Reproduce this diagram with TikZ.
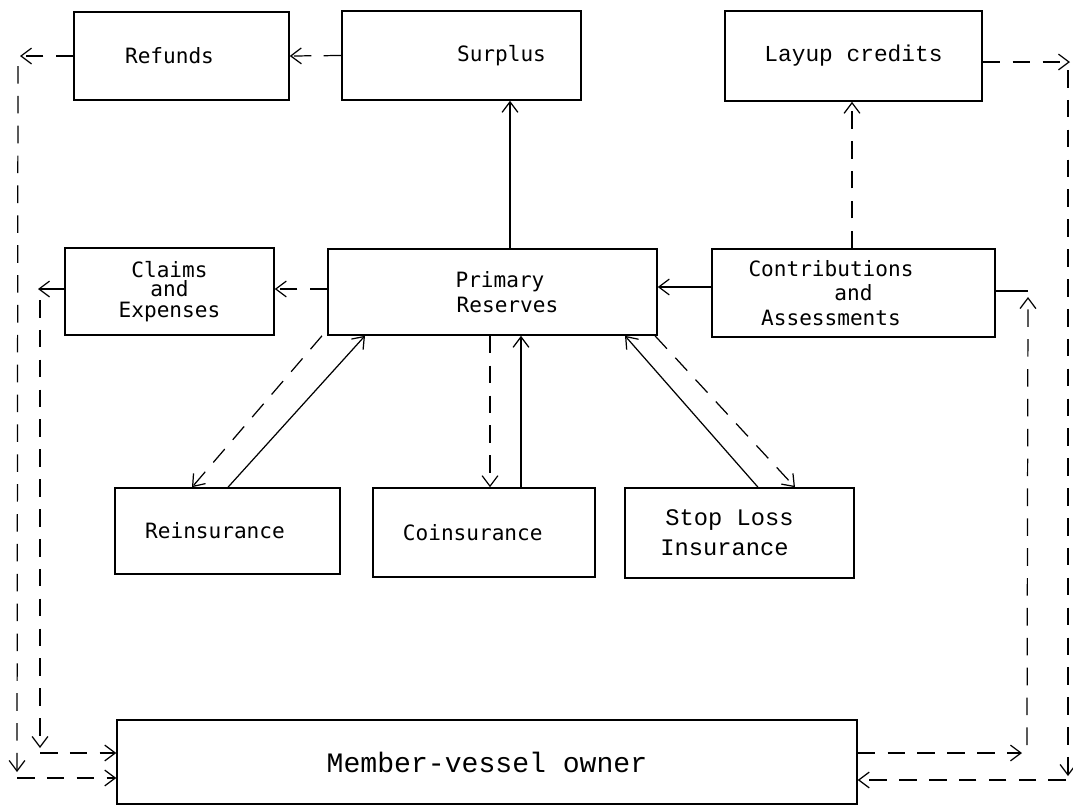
\documentclass[tikz,border=0pt]{standalone}
\usepackage{fontspec}
\newfontfamily\typesans{DejaVu Sans Mono}
\newfontfamily\typeserif{Liberation Mono}
\usetikzlibrary{arrows.meta}

\tikzset{
  blk/.style={draw, line width=0.9pt, inner sep=0pt, align=center,
    font=\typesans\fontsize{12}{14}\selectfont},
  blkserif/.style={blk, font=\typeserif\fontsize{13.5}{17}\selectfont},
  flow/.style={line width=0.7pt, -{Straight Barb[length=6pt,width=9pt]}},
  plain/.style={line width=0.7pt},
  dflow/.style={flow, dash pattern=on 10pt off 7pt},
}

\begin{document}
\begin{tikzpicture}[x=0.02cm, y=-0.02cm]
\useasboundingbox (0,0) rectangle (1073,806);

\node[blk, minimum width=4.30cm, minimum height=1.76cm] (refunds) at (181.5,56) {Refunds\hspace*{0.48cm}};
\node[blk, minimum width=4.78cm, minimum height=1.78cm] (surplus) at (461.5,55.5) {\hspace*{1.6cm}Surplus};
\node[blkserif, minimum width=5.14cm, minimum height=1.80cm, font=\typeserif\fontsize{13}{15}\selectfont] (layup) at (853.5,56) {Layup credits};
\node[blk, minimum width=4.18cm, minimum height=1.74cm] (claims) at (169.5,291.5) {Claims\\[-3pt]and\\[-2pt]Expenses};
\node[blk, minimum width=6.58cm, minimum height=1.72cm] (primary) at (492.5,292) {\hspace*{0.3cm}Primary\\\hspace*{0.6cm}Reserves};
\node[blk, minimum width=5.66cm, minimum height=1.76cm] (contrib) at (853.5,293) {Contributions\hspace*{0.9cm}\\and\hspace*{0.45cm}\\Assessments\hspace*{0.9cm}};
\node[blk, minimum width=4.50cm, minimum height=1.72cm] (reins) at (227.5,531) {Reinsurance\hspace*{0.5cm}};
\node[blk, minimum width=4.44cm, minimum height=1.78cm] (coins) at (484,532.5) {Coinsurance\hspace*{0.45cm}};
\node[blkserif, minimum width=4.58cm, minimum height=1.80cm] (stoploss) at (739.5,533) {Stop Loss\hspace*{0.4cm}\\Insurance\hspace*{0.6cm}};
\node[blkserif, minimum width=14.80cm, minimum height=1.68cm, font=\typeserif\fontsize{16}{19}\selectfont] (member) at (487,762) {Member-vessel owner};

\coordinate (outtop) at (20,56);
\coordinate (outup) at (18,66);
\coordinate (outdown) at (17,772);
\coordinate (outcorner) at (17,778);
\coordinate (intop) at (38,289);
\coordinate (inup) at (40,300);
\coordinate (indown) at (40,748);
\coordinate (incorner) at (40,753);
\coordinate (rtop) at (1070,62);
\coordinate (rup) at (1068,70);
\coordinate (rdown) at (1068,776);
\coordinate (rcorner) at (1066,780);
\coordinate (ribot) at (1022,753);
\coordinate (rilow) at (1027,745);
\coordinate (rihigh) at (1028,297);
\coordinate (ritop) at (1028,291);

\draw[dflow] (surplus.west) -- (refunds.east);
\draw[dflow] (refunds.west) -- (outtop);
\draw[dflow] (outup) -- (outdown);
\draw[dflow] (outcorner) -- (outcorner -| member.west);
\draw[flow] (claims.west |- intop) -- (intop);
\draw[dflow] (inup) -- (indown);
\draw[dflow] (incorner) -- (incorner -| member.west);
\draw[dflow] (primary.west |- 0,289) -- (claims.east |- 0,289);
\draw[flow] (primary.north -| 510,0) -- (surplus.south -| 510,0);
\draw[flow] (contrib.west |- 0,287) -- (primary.east |- 0,287);
\draw[dflow] (contrib.north -| 852,0) -- (layup.south -| 852,0);
\draw[dflow] (layup.east |- rtop) -- (rtop);
\draw[dflow] (rup) -- (rdown);
\draw[dflow] (rcorner) -- (rcorner -| member.east);
\draw[dflow] (member.east |- ribot) -- (ribot);
\draw[dflow] (rilow) -- (rihigh);
\draw[plain] (ritop) -- (ritop -| contrib.east);

\draw[dflow] (primary.south -| 322,0) -- (reins.north -| 192,0);
\draw[flow] (reins.north -| 228,0) -- (primary.south -| 365,0);
\draw[dflow] (primary.south -| 490,0) -- (coins.north -| 490,0);
\draw[flow] (coins.north -| 521,0) -- (primary.south -| 521,0);
\draw[flow] (stoploss.north -| 758,0) -- (primary.south -| 625,0);
\draw[dflow] (primary.south -| 655,0) -- (stoploss.north -| 795,0);
\end{tikzpicture}
\end{document}
